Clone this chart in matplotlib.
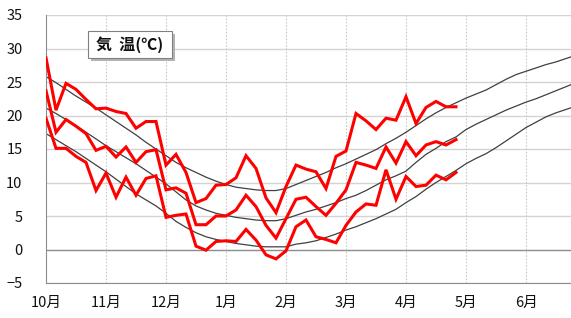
import matplotlib
matplotlib.use("Agg")
import matplotlib.pyplot as plt
from matplotlib.patches import Rectangle
import numpy as np

plt.rcParams['font.family'] = ['Noto Sans CJK JP', 'DejaVu Sans']

# pentad (5-day) values, first point = 1 Oct
obs_max = [28.6, 20.8, 24.8, 23.9, 22.4, 21.0, 21.1, 20.6, 20.3, 18.1, 19.1, 19.1,
           12.6, 14.2, 11.5, 7.0, 7.6, 9.6, 9.7, 10.7, 14.0, 12.1, 7.7, 5.5,
           9.4, 12.6, 12.0, 11.6, 9.1, 13.9, 14.7, 20.3, 19.2, 17.9, 19.6, 19.3,
           22.8, 18.8, 21.2, 22.1, 21.3, 21.3]
obs_mean = [23.7, 17.5, 19.4, 18.4, 17.3, 14.8, 15.4, 13.8, 15.3, 13.0, 14.6, 14.9,
            8.9, 9.2, 8.4, 3.7, 3.7, 5.0, 5.0, 5.9, 8.1, 6.4, 3.6, 1.7,
            4.6, 7.5, 7.8, 6.4, 5.1, 6.9, 8.9, 13.0, 12.6, 12.1, 15.3, 12.9,
            16.1, 14.0, 15.6, 16.1, 15.6, 16.4]
obs_min = [19.6, 15.1, 15.1, 13.9, 13.0, 8.8, 11.4, 7.8, 10.8, 8.1, 10.6, 11.0,
           4.8, 5.1, 5.3, 0.5, -0.1, 1.2, 1.3, 1.2, 3.0, 1.4, -0.8, -1.4,
           -0.2, 3.4, 4.4, 1.9, 1.5, 1.0, 3.6, 5.6, 6.8, 6.6, 11.9, 7.5,
           10.9, 9.4, 9.6, 11.1, 10.4, 11.5]

norm_max = [25.8, 24.9, 23.9, 22.9, 22.0, 21.1, 20.1, 19.1, 18.1, 17.1, 16.0, 15.0,
            14.0, 13.0, 12.2, 11.5, 10.8, 10.2, 9.7, 9.3, 9.1, 8.9, 8.8, 8.8,
            9.1, 9.7, 10.3, 10.9, 11.5, 12.2, 12.8, 13.5, 14.2, 14.9, 15.8, 16.6,
            17.5, 18.5, 19.5, 20.4, 21.2, 21.9, 22.6, 23.2, 23.8, 24.6, 25.4, 26.1,
            26.6, 27.1, 27.6, 28.0, 28.5, 29.0]
norm_mean = [21.1, 20.3, 19.4, 18.5, 17.5, 16.5, 15.5, 14.6, 13.7, 12.8, 11.8, 10.8,
             9.8, 8.6, 7.4, 6.5, 5.9, 5.4, 5.1, 4.8, 4.6, 4.4, 4.3, 4.3,
             4.6, 5.1, 5.6, 6.0, 6.5, 7.0, 7.6, 8.1, 8.8, 9.6, 10.4, 11.0,
             11.7, 13.0, 14.2, 15.1, 16.1, 16.8, 17.9, 18.7, 19.4, 20.1, 20.8, 21.4,
             22.0, 22.5, 23.1, 23.7, 24.3, 24.9]
norm_min = [17.3, 16.4, 15.5, 14.6, 13.6, 12.6, 11.6, 10.5, 9.4, 8.3, 7.4, 6.5,
            5.4, 4.2, 3.3, 2.5, 1.9, 1.5, 1.2, 0.9, 0.7, 0.5, 0.4, 0.4,
            0.4, 0.8, 1.0, 1.3, 1.8, 2.3, 2.9, 3.4, 4.0, 4.6, 5.3, 6.0,
            7.0, 7.9, 9.0, 10.0, 10.9, 11.8, 12.8, 13.6, 14.3, 15.2, 16.2, 17.2,
            18.2, 19.0, 19.8, 20.4, 20.9, 21.4]

month_labels = ['10月', '11月', '12月', '1月', '2月', '3月', '4月', '5月', '6月']

W, H = 571, 318
fig = plt.figure(figsize=(W / 100, H / 100), dpi=100)
ax = fig.add_axes([46 / W, 1 - 283 / H, 1 - 46 / W, (283 - 15) / H])

x_obs = np.arange(len(obs_max)) / 6
x_norm = np.arange(len(norm_max)) / 6

# grid
for v in range(-5, 36, 5):
    if v == 0:
        ax.axhline(v, color='#8c8c8c', lw=1.0, zorder=1)
    else:
        ax.axhline(v, color='#d4d4d4', lw=1.0, zorder=1)
for m in range(1, len(month_labels)):
    ax.axvline(m, color='#c8c8c8', lw=0.8, ls=(0, (1.5, 1.5)), zorder=1)

for s in (norm_max, norm_mean, norm_min):
    ax.plot(x_norm, s, color='#404040', lw=0.9, zorder=2)
for s in (obs_max, obs_mean, obs_min):
    ax.plot(x_obs, s, color='#ff0000', lw=2.2, zorder=3, solid_joinstyle='miter')

ax.set_xlim(0, (W - 46) / 60)
ax.set_ylim(-5, 35)
ax.set_yticks(range(-5, 36, 5))
ax.set_xticks(range(len(month_labels)))
ax.set_xticklabels(month_labels)
ax.tick_params(length=0, labelsize=10.5, colors='#111111')
ax.tick_params(axis='y', pad=17)
ax.tick_params(axis='x', pad=9)

for side in ('top', 'right'):
    ax.spines[side].set_visible(False)
ax.spines['left'].set_color('#8c8c8c')
ax.spines['bottom'].set_color('#8c8c8c')

# title box with drop shadow
bx0, by0, bx1, by1 = 88, 31, 172, 58
fig.add_artist(Rectangle(((bx0 + 3) / W, 1 - (by1 + 3) / H), (bx1 - bx0) / W,
                         (by1 - by0) / H, transform=fig.transFigure,
                         fc='#b4b4b4', ec='none', zorder=5))
fig.add_artist(Rectangle((bx0 / W, 1 - by1 / H), (bx1 - bx0) / W,
                         (by1 - by0) / H, transform=fig.transFigure,
                         fc='white', ec='#808080', lw=0.8, zorder=6))
fig.text((bx0 + bx1) / 2 / W, 1 - (by0 + by1) / 2 / H, '気  温(℃)',
         ha='center', va='center', fontsize=11.5, fontweight='bold',
         color='#111111', zorder=7)

fig.savefig('out.png', dpi=100)
